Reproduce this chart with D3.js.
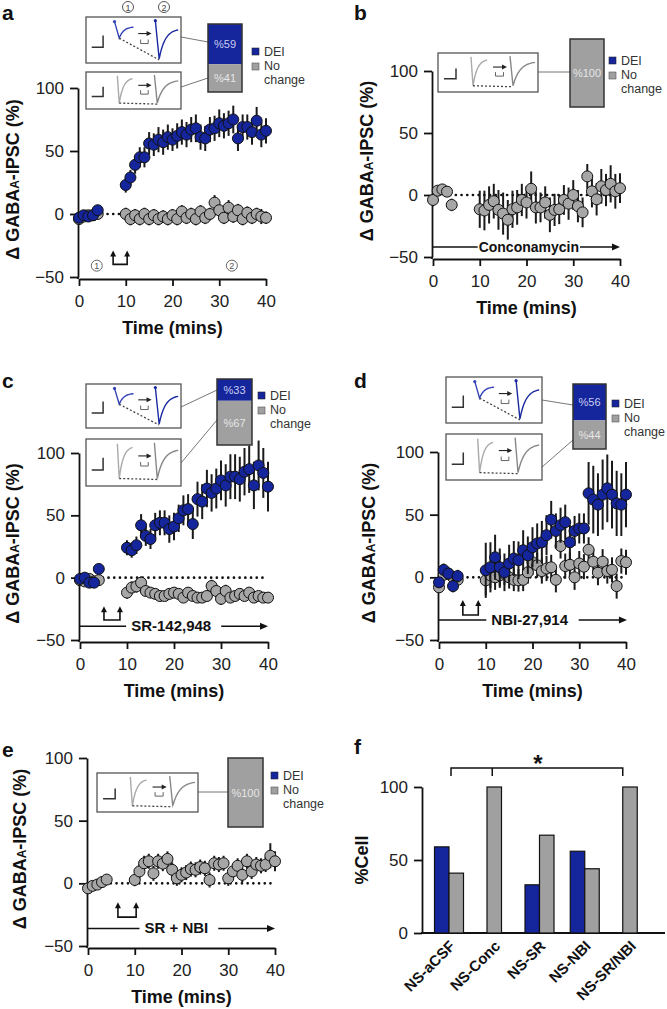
<!DOCTYPE html>
<html><head><meta charset="utf-8">
<script src="https://cdn.jsdelivr.net/npm/d3@7"></script>
<style>
body{margin:0;background:#fff}
svg{display:block}
text{font-family:"Liberation Sans",Arial,Helvetica,sans-serif}
</style>
</head><body>
<svg id="chart" width="667" height="1009"></svg>
<script>
// ---------------- DATA ----------------
const timeBase = [0, 1, 2, 3, 4];
const timePost = [10,11,12,13,14,15,16,17,18,19,20,21,22,23,24,25,26,27,28,29,30,31,32,33,34,35,36,37,38,39,40];
const xTicks = [0, 10, 20, 30, 40];
const yTicks = [-50, 0, 50, 100];

// panel a
const aBlueBase = [-3, -1, -2, -1, 3];
const aBluePost = [23,29,39,45,45,56,55,59,57,61,59,62,65,63,67,68,61,60,67,68,72,70,72,75,60,69,69,65,74,63,66];
const aBlueErrBase = [3,3,4,3,4];
const aBlueErrPost = [6,6,7,8,8,9,9,10,10,10,9,10,10,10,10,11,10,10,10,10,11,10,10,11,10,10,10,10,11,10,10];
const aGrayBase = [-4, -2, -1, -1, 0];
const aGrayPost = [0,-4,-1,-4,0,-4,-1,-4,-2,-4,-1,-4,2,-3,0,-4,2,-3,0,9,3,-3,5,-2,3,-4,1,-3,0,-2,-3];
const aGrayErrBase = [3,3,3,3,3];
const aGrayErrPost = [5,5,5,5,5,5,5,5,5,5,5,5,5,5,5,5,5,5,5,6,5,5,6,5,5,5,5,5,5,6,5];
const aStimTimes = [7.3, 10.3];

// panel b
const bGrayBase = [-4, 3.5, 4.5, 2.7, -8];
const bGrayPost = [-11.5,-12.5,-8,-5,-12,-15,-20,-11.5,-10,-4,-6,5,-10,-10,-6,-16,-12,-11.5,-4,-7,0,-9,-14,15,3,-3.5,7,4,9,3,5.5];
const bGrayErrBase = [5,4,4,4,5];
const bGrayErrPost = [15,16,15,14,16,17,16,15,14,13,13,14,13,12,13,14,13,12,12,13,12,13,12,10,13,13,14,13,15,14,12];

// panel c
const cBlueBase = [-1, 0, -4, -4, 7];
const cBluePost = [24,22,26,42,33.5,31,42,44,44,39,41,47.6,54,55,43,63,61,71.5,68,71.5,78,74,81,81,79,85,87,74,90,84,73];
const cBlueErrBase = [4,4,4,4,4];
const cBlueErrPost = [6,6,7,9,8,8,10,10,10,11,11,11,12,12,12,14,14,15,15,16,16,17,18,18,18,19,19,19,20,20,20];
const cGrayBase = [-2, -3, -1, -3, -2];
const cGrayPost = [-12,-8,-7,-4,-10.7,-12,-13,-14.7,-14.7,-13,-12,-13,-16,-12,-14.7,-16,-16,-14.7,-6.7,-10.7,-17,-10.7,-16,-14.7,-13,-14.7,-12,-16,-14.7,-16,-16];
const cGrayErrBase = [3,3,3,3,3];
const cGrayErrPost = [5,5,5,5,4,4,4,4,4,4,4,4,4,4,4,4,4,4,5,5,5,5,4,4,4,4,4,4,4,4,4];
const cStimTimes = [5.1, 8.5];

// panel d
const dBlueBase = [-4, 6, 3, -7, 1];
const dBluePost = [5.6,8,16,8,4,11,15,13.6,21.6,17.6,24,27,28,33.6,46,37,41.6,44,28,37,39,39,67,62,58,66,71,66,59,58,66];
const dBlueErrBase = [4,5,5,5,5];
const dBlueErrPost = [22,20,18,15,15,15,14,15,16,15,16,16,17,16,15,14,14,14,14,12,12,12,25,27,25,28,27,27,26,25,26];
const dGrayBase = [-8, 2, 3, 0, -2];
const dGrayPost = [-2.4,1.6,0,1.6,3,0,-2,-2.4,-2,4,12,9.6,5,7,8,-2,25,9,10,0,11,8.5,22,12.5,3.7,12.5,5,6,-7,13,12];
const dGrayErrBase = [4,4,4,4,4];
const dGrayErrPost = [12,10,10,10,9,9,9,9,9,9,10,10,10,10,10,10,10,10,10,10,10,10,10,10,10,10,10,10,10,10,10];
const dStimTimes = [5.1, 8.4];

// panel e
const eGrayBase = [-4, -2, -1, 1, 3];
const eGrayPost = [2.7,9.5,16,17.6,8,17.6,15.7,19.5,10.8,4,6.8,8.6,11.4,10.8,13,12,2.7,16,15,16,4,9.5,14,6.8,17.6,9.5,15,14,15,22,17.6];
const eGrayErrBase = [3,3,3,3,3];
const eGrayErrPost = [5,6,6,6,6,6,6,6,6,6,6,6,6,6,6,6,6,6,6,6,6,6,6,6,6,6,6,6,6,10,8];
const eStimTimes = [6.4, 10.3];

// inset proportions (% DEI, % No change)
const aPct = [59, 41];
const bPct = [0, 100];
const cPct = [33, 67];
const dPct = [56, 44];
const ePct = [0, 100];

// panel f
const fCategories = ["NS-aCSF", "NS-Conc", "NS-SR", "NS-NBI", "NS-SR/NBI"];
const fDEI = [59, 0, 33, 56, 0];
const fNoChange = [41, 100, 67, 44, 100];
const fTicks = [0, 50, 100];

// ---------------- STYLE ----------------
const BLUE = "#15259b";
const GRAY = "#a6a6a6";
const BARGRAY = "#a0a0a0";
const svg = d3.select("#chart");

function mkPoints(base, post, eb, ep) {
  return timeBase.map((t, i) => ({t, v: base[i], e: eb[i]}))
    .concat(timePost.map((t, i) => ({t, v: post[i], e: ep[i]})));
}

function arrowHeadRight(g, xe, yy, col) {
  g.append("path").attr("d", `M${xe},${yy}L${xe-8},${yy-3.5}L${xe-8},${yy+3.5}Z`).attr("fill", col || "#111");
}
function arrowHeadUp(g, xx, yt) {
  g.append("path").attr("d", `M${xx},${yt}L${xx-3},${yt+6}L${xx+3},${yt+6}Z`).attr("fill", "#111");
}

function traceLine(g, bx, by, bw, bh, s, col, w) {
  const pts = [[s.xs, s.yt], [s.xd, s.yb]];
  const n = 14;
  for (let k = 1; k <= n; k++) {
    const f = k / n;
    const r = (1 - Math.exp(-3.2 * f)) / (1 - Math.exp(-3.2));
    pts.push([s.xd + (s.xe - s.xd) * f, s.yb + (s.ye - s.yb) * r]);
  }
  const line = d3.line().x(d => bx + d[0] * bw).y(d => by + d[1] * bh);
  g.append("path").attr("d", line(pts)).attr("fill", "none").attr("stroke", col).attr("stroke-width", w || 1.4);
}

function drawInsetBox(g, b) {
  const {x, y, w, h, type} = b;
  g.append("rect").attr("x", x).attr("y", y).attr("width", w).attr("height", h)
    .attr("fill", "#fff").attr("stroke", "#555").attr("stroke-width", 1.3);
  // scale bar
  g.append("path").attr("d", `M${x+w*0.06},${y+h*0.66}H${x+w*0.18}V${y+h*0.40}`)
    .attr("fill", "none").attr("stroke", "#333").attr("stroke-width", 1.5);
  let t1, t2, c1, c2;
  if (type === "blue") {
    t1 = {xs: .30, yt: .10, xd: .35, yb: .46, xe: .50, ye: .22};
    t2 = {xs: .73, yt: .08, xd: .77, yb: .91, xe: .97, ye: .28};
    c1 = "#3344b8"; c2 = "#1a2aa0";
  } else {
    t1 = {xs: .33, yt: .10, xd: .35, yb: .84, xe: .49, ye: .18};
    t2 = {xs: .72, yt: .08, xd: .75, yb: .84, xe: .97, ye: .24};
    c1 = "#aaa"; c2 = "#888";
  }
  traceLine(g, x, y, w, h, t1, c1, 1.4);
  traceLine(g, x, y, w, h, t2, c2, 1.4);
  if (type === "blue") {
    g.append("circle").attr("cx", x + w * t1.xs).attr("cy", y + h * t1.yt).attr("r", 1.6).attr("fill", c1);
    g.append("circle").attr("cx", x + w * t2.xs).attr("cy", y + h * t2.yt).attr("r", 1.6).attr("fill", c2);
  }
  // dashed line between minima
  g.append("line").attr("x1", x + w * t1.xd).attr("y1", y + h * t1.yb)
    .attr("x2", x + w * t2.xd).attr("y2", y + h * t2.yb + 1)
    .attr("stroke", "#444").attr("stroke-width", 1.3).attr("stroke-dasharray", "2,2");
  // stimulation arrow symbol
  const ax1 = x + w * 0.55, ax2 = x + w * 0.69, ay = y + h * 0.36;
  g.append("line").attr("x1", ax1).attr("y1", ay).attr("x2", ax2 - 4).attr("y2", ay).attr("stroke", "#222").attr("stroke-width", 1.1);
  g.append("path").attr("d", `M${ax2},${ay}L${ax2-5},${ay-2.5}L${ax2-5},${ay+2.5}Z`).attr("fill", "#222");
  const ux1 = x + w * 0.575, ux2 = x + w * 0.655, uy = y + h * 0.49;
  g.append("path").attr("d", `M${ux1},${uy}V${uy+4}H${ux2}V${uy}`)
    .attr("fill", "none").attr("stroke", "#555").attr("stroke-width", 0.9);
}

function drawStack(g, b, vals) {
  const s = d3.scaleLinear().domain([0, 100]).range([0, b.h]);
  let y0 = b.y;
  vals.forEach((v, i) => {
    if (v <= 0) return;
    const hh = s(v);
    g.append("rect").attr("x", b.x).attr("y", y0).attr("width", b.w).attr("height", hh)
      .attr("fill", i === 0 ? BLUE : BARGRAY);
    g.append("text").attr("x", b.x + b.w / 2).attr("y", y0 + hh / 2 + 4).attr("text-anchor", "middle")
      .attr("font-size", 11).attr("fill", i === 0 ? "#c9cdf2" : "#e6e6e6").text("%" + v);
    y0 += hh;
  });
  g.append("rect").attr("x", b.x).attr("y", b.y).attr("width", b.w).attr("height", b.h)
    .attr("fill", "none").attr("stroke", "#333").attr("stroke-width", 1.5);
}

function drawLegend(g, lx, ly) {
  g.append("rect").attr("x", lx).attr("y", ly).attr("width", 7).attr("height", 7).attr("fill", BLUE).attr("stroke", "#223").attr("stroke-width", 0.6);
  g.append("rect").attr("x", lx).attr("y", ly + 15).attr("width", 7).attr("height", 7).attr("fill", BARGRAY).attr("stroke", "#555").attr("stroke-width", 0.6);
  const t = (txt, yy) => g.append("text").attr("x", lx + 12).attr("y", yy).attr("font-size", 12.5).attr("fill", "#333").text(txt);
  t("DEI", ly + 8); t("No", ly + 22); t("change", ly + 36);
}

function drawPanel(p) {
  const g = svg.append("g");
  const x = d3.scaleLinear().domain([0, 40]).range([p.x0, p.x40]);
  const y = d3.scaleLinear().domain([-50, 100]).range([p.yb, p.yt]);

  // panel letter
  g.append("text").attr("x", p.letter[0]).attr("y", p.letter[1]).attr("font-size", 21).attr("font-weight", "bold").attr("fill", "#111").text(p.id);

  // axes
  const ya = g.append("g").attr("transform", `translate(${p.x0 - 1},0)`)
    .call(d3.axisLeft(y).tickValues(yTicks).tickSize(8).tickPadding(6).tickSizeOuter(0));
  const xa = g.append("g").attr("transform", `translate(0,${p.yb + 2})`)
    .call(d3.axisBottom(x).tickValues(xTicks).tickSize(7).tickPadding(9).tickSizeOuter(0));
  [ya, xa].forEach(a => {
    a.select(".domain").attr("stroke", "#111").attr("stroke-width", 1.8);
    a.selectAll(".tick line").attr("stroke", "#111").attr("stroke-width", 1.8);
    a.selectAll(".tick text").attr("font-size", 17).attr("fill", "#222").attr("font-family", "Liberation Sans, Arial, sans-serif");
  });
  g.append("line").attr("x1", p.x0 - 1).attr("x2", p.x0 - 1).attr("y1", p.yb).attr("y2", p.yb + 2).attr("stroke", "#111").attr("stroke-width", 1.8);

  // axis titles
  g.append("text").attr("x", (p.x0 + p.x40) / 2).attr("y", p.yb + 57).attr("text-anchor", "middle")
    .attr("font-size", 18).attr("font-weight", "bold").attr("fill", "#111").text("Time (mins)");
  const yl = g.append("text").attr("transform", `translate(${p.ylabX},${(p.yb + p.yt) / 2 - 3}) rotate(-90)`)
    .attr("text-anchor", "middle").attr("font-size", 18).attr("font-weight", "bold").attr("fill", "#111");
  yl.append("tspan").text("Δ GABA");
  yl.append("tspan").attr("font-size", 12).text("A");
  yl.append("tspan").text("-IPSC (%)");

  // zero dotted line
  g.append("line").attr("x1", x(0)).attr("x2", x(40)).attr("y1", y(0)).attr("y2", y(0))
    .attr("stroke", "#111").attr("stroke-width", 2.6).attr("stroke-linecap", "round").attr("stroke-dasharray", "0.1,5.6");

  // stimulation arrows
  if (p.stim) {
    const [t1, t2] = p.stim.t;
    const yt = y(p.stim.top), ybm = y(p.stim.bot);
    g.append("path").attr("d", `M${x(t1)},${yt+5}V${ybm}H${x(t2)}V${yt+5}`).attr("fill", "none").attr("stroke", "#111").attr("stroke-width", 1.6);
    arrowHeadUp(g, x(t1), yt); arrowHeadUp(g, x(t2), yt);
  }

  // drug bar annotation
  if (p.drug) {
    const d = p.drug, yy = y(d.v);
    const tx = g.append("text").attr("x", x(d.tc)).attr("y", yy + 5).attr("text-anchor", "middle")
      .attr("font-size", d.fs).attr("font-weight", "bold").attr("fill", "#111").text(d.label);
    const bb = tx.node().getBBox();
    if (d.mode === "bg") {
      g.insert("line", () => tx.node()).attr("x1", x(0)).attr("x2", x(d.tEnd) - 6).attr("y1", yy).attr("y2", yy).attr("stroke", "#111").attr("stroke-width", 1.5);
      g.insert("rect", () => tx.node()).attr("x", bb.x - 1).attr("y", bb.y + 1).attr("width", bb.width + 2).attr("height", bb.height - 2).attr("fill", "#fff");
      arrowHeadRight(g, x(d.tEnd), yy);
    } else {
      g.append("line").attr("x1", x(0)).attr("x2", bb.x - 5).attr("y1", yy).attr("y2", yy).attr("stroke", "#111").attr("stroke-width", 1.5);
      g.append("line").attr("x1", bb.x + bb.width + 10).attr("x2", x(d.tEnd) - 6).attr("y1", yy).attr("y2", yy).attr("stroke", "#111").attr("stroke-width", 1.5);
      arrowHeadRight(g, x(d.tEnd), yy);
    }
  }

  // circled labels
  (p.circles || []).forEach(c => {
    g.append("circle").attr("cx", x(c.t)).attr("cy", y(c.v)).attr("r", 5.5).attr("fill", "#fff").attr("stroke", "#666").attr("stroke-width", 1);
    g.append("text").attr("x", x(c.t)).attr("y", y(c.v) + 3.5).attr("text-anchor", "middle").attr("font-size", 9).attr("fill", "#555").text(c.label);
  });

  // series
  p.series.forEach(s => {
    const pts = mkPoints(s.base, s.post, s.eb, s.ep);
    g.append("g").selectAll("line").data(pts).join("line")
      .attr("x1", d => x(d.t)).attr("x2", d => x(d.t))
      .attr("y1", d => y(d.v - d.e)).attr("y2", d => y(d.v + d.e))
      .attr("stroke", "#1a1a1a").attr("stroke-width", 2);
    g.append("g").selectAll("circle").data(pts).join("circle")
      .attr("cx", d => x(d.t)).attr("cy", d => y(d.v)).attr("r", 5.5)
      .attr("fill", s.color).attr("stroke", "#111").attr("stroke-width", 1);
  });

  // insets
  const ins = p.inset;
  ins.conn.forEach(c => g.append("line").attr("x1", c[0]).attr("y1", c[1]).attr("x2", c[2]).attr("y2", c[3]).attr("stroke", "#777").attr("stroke-width", 1));
  ins.boxes.forEach(b => drawInsetBox(g, b));
  drawStack(g, ins.bar, ins.pct);
  drawLegend(g, ins.legend[0], ins.legend[1]);
  (ins.topNums || []).forEach(n => {
    g.append("circle").attr("cx", n[0]).attr("cy", n[1]).attr("r", 5.5).attr("fill", "#fff").attr("stroke", "#555").attr("stroke-width", 1);
    g.append("text").attr("x", n[0]).attr("y", n[1] + 3.5).attr("text-anchor", "middle").attr("font-size", 9).attr("fill", "#444").text(n[2]);
  });
}

const panels = [
  {id: "a", x0: 79, x40: 266, yb: 277, yt: 88, letter: [2, 20], ylabX: 19,
   series: [
     {base: aGrayBase, post: aGrayPost, eb: aGrayErrBase, ep: aGrayErrPost, color: GRAY},
     {base: aBlueBase, post: aBluePost, eb: aBlueErrBase, ep: aBlueErrPost, color: BLUE}],
   stim: {t: aStimTimes, top: -29, bot: -40},
   circles: [{t: 3.8, v: -41, label: "1"}, {t: 32.7, v: -41, label: "2"}],
   inset: {boxes: [{x: 86, y: 17, w: 95, h: 46, type: "blue"}, {x: 86, y: 72, w: 95, h: 37, type: "gray"}],
           bar: {x: 208, y: 24, w: 34, h: 68}, pct: aPct, legend: [252, 48],
           conn: [[181, 37, 208, 42], [181, 87, 208, 78]],
           topNums: [[128, 7, "1"], [164, 7, "2"]]}},
  {id: "b", x0: 433, x40: 620, yb: 257, yt: 71, letter: [354, 20], ylabX: 373,
   series: [{base: bGrayBase, post: bGrayPost, eb: bGrayErrBase, ep: bGrayErrPost, color: GRAY}],
   drug: {label: "Conconamycin", tc: 20.5, v: -42, tEnd: 40, fs: 14, mode: "bg"},
   inset: {boxes: [{x: 438, y: 53, w: 100, h: 39, type: "gray"}],
           bar: {x: 570, y: 39, w: 34, h: 68}, pct: bPct, legend: [609, 57],
           conn: [[538, 72, 570, 72]]}},
  {id: "c", x0: 80, x40: 268, yb: 640, yt: 453, letter: [2, 388], ylabX: 19,
   series: [
     {base: cGrayBase, post: cGrayPost, eb: cGrayErrBase, ep: cGrayErrPost, color: GRAY},
     {base: cBlueBase, post: cBluePost, eb: cBlueErrBase, ep: cBlueErrPost, color: BLUE}],
   stim: {t: cStimTimes, top: -23, bot: -34},
   drug: {label: "SR-142,948", tc: 19.4, v: -39, tEnd: 40, fs: 15, mode: "gap"},
   inset: {boxes: [{x: 86, y: 384, w: 95, h: 44, type: "blue"}, {x: 86, y: 439, w: 95, h: 47, type: "gray"}],
           bar: {x: 217, y: 379, w: 35, h: 66}, pct: cPct, legend: [258, 392],
           conn: [[181, 407, 217, 390], [181, 463, 217, 420]]}},
  {id: "d", x0: 439, x40: 626, yb: 640, yt: 452, letter: [354, 388], ylabX: 375,
   series: [
     {base: dGrayBase, post: dGrayPost, eb: dGrayErrBase, ep: dGrayErrPost, color: GRAY},
     {base: dBlueBase, post: dBluePost, eb: dBlueErrBase, ep: dBlueErrPost, color: BLUE}],
   stim: {t: dStimTimes, top: -18, bot: -30},
   drug: {label: "NBI-27,914", tc: 19.4, v: -34, tEnd: 40.2, fs: 15, mode: "gap"},
   inset: {boxes: [{x: 446, y: 377, w: 96, h: 46, type: "blue"}, {x: 446, y: 434, w: 96, h: 46, type: "gray"}],
           bar: {x: 573, y: 384, w: 33, h: 65}, pct: dPct, legend: [612, 400],
           conn: [[542, 400, 573, 405], [542, 467, 573, 440]]}},
  {id: "e", x0: 88, x40: 275, yb: 946, yt: 758, letter: [2, 757], ylabX: 26,
   series: [{base: eGrayBase, post: eGrayPost, eb: eGrayErrBase, ep: eGrayErrPost, color: GRAY}],
   stim: {t: eStimTimes, top: -15, bot: -27},
   drug: {label: "SR + NBI", tc: 18.9, v: -36, tEnd: 40, fs: 15, mode: "gap"},
   inset: {boxes: [{x: 97, y: 773, w: 101, h: 39, type: "gray"}],
           bar: {x: 228, y: 758, w: 35, h: 69}, pct: ePct, legend: [271, 772],
           conn: [[198, 792, 228, 792]]}}
];
panels.forEach(drawPanel);

// ---------------- PANEL f ----------------
(function () {
  const g = svg.append("g");
  const y = d3.scaleLinear().domain([0, 100]).range([933, 787]);
  const x = d3.scalePoint().domain(fCategories).range([449, 630]);
  const bw = 14.5;
  g.append("text").attr("x", 354).attr("y", 754).attr("font-size", 21).attr("font-weight", "bold").attr("fill", "#111").text("f");
  const ya = g.append("g").attr("transform", "translate(422,0)")
    .call(d3.axisLeft(y).tickValues(fTicks).tickSize(8).tickPadding(6).tickSizeOuter(0));
  ya.select(".domain").attr("stroke", "#111").attr("stroke-width", 1.8);
  ya.selectAll(".tick line").attr("stroke", "#111").attr("stroke-width", 1.8);
  ya.selectAll(".tick text").attr("font-size", 17).attr("fill", "#222");
  g.append("line").attr("x1", 421).attr("x2", 665).attr("y1", 933).attr("y2", 933).attr("stroke", "#111").attr("stroke-width", 1.8);
  g.append("text").attr("transform", "translate(368,860) rotate(-90)").attr("text-anchor", "middle")
    .attr("font-size", 18).attr("font-weight", "bold").attr("fill", "#111").text("%Cell");

  fCategories.forEach((c, i) => {
    const cx = x(c);
    const single = fDEI[i] === 0;
    if (!single) {
      g.append("rect").attr("x", cx - bw).attr("y", y(fDEI[i])).attr("width", bw).attr("height", y(0) - y(fDEI[i]))
        .attr("fill", BLUE).attr("stroke", "#111").attr("stroke-width", 1.2);
    }
    const gx = single ? cx - bw / 2 : cx;
    g.append("rect").attr("x", gx).attr("y", y(fNoChange[i])).attr("width", bw).attr("height", y(0) - y(fNoChange[i]))
      .attr("fill", BARGRAY).attr("stroke", "#111").attr("stroke-width", 1.2);
    g.append("text").attr("transform", `translate(${cx + 7},${947}) rotate(-45)`).attr("text-anchor", "end")
      .attr("font-size", 15).attr("font-weight", "bold").attr("fill", "#111").text(c);
  });

  // significance bracket
  const bl = x("NS-aCSF") + 2, bm = x("NS-Conc") - 2, br = x("NS-SR/NBI") - bw / 2;
  g.append("path").attr("d", `M${bl},776V768H${br}V776M${bm},768V776`).attr("fill", "none").attr("stroke", "#111").attr("stroke-width", 1.5);
  g.append("text").attr("x", 538).attr("y", 772).attr("text-anchor", "middle").attr("font-size", 24).attr("font-weight", "bold").attr("fill", "#111").text("*");
})();
</script>
</body></html>
